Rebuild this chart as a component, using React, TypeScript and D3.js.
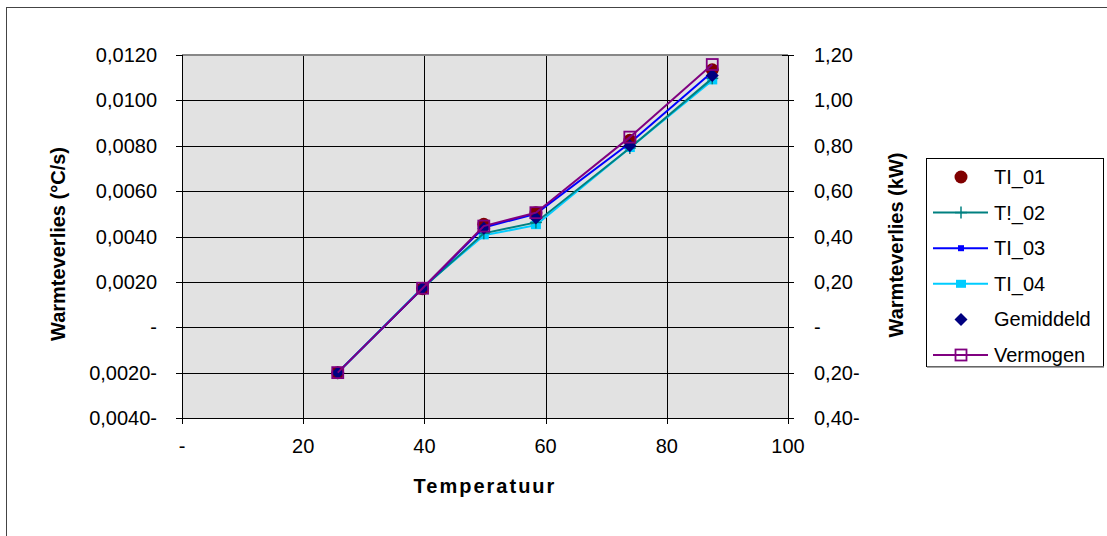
import React from "react";
import * as d3 from "d3";

const temperatures = [25.7, 39.7, 49.8, 58.4, 73.9, 87.5];
const ti01 = [-0.002, 0.0017, 0.00454, 0.00505, 0.00824, 0.01135];
const ti02 = [-0.002, 0.00172, 0.00414, 0.00462, 0.0079, 0.01097];
const ti03 = [-0.002, 0.00172, 0.0044, 0.005, 0.00812, 0.01125];
const ti04 = [-0.002, 0.00175, 0.00405, 0.0045, 0.0079, 0.01088];
const gemiddeld = [-0.002, 0.00172, 0.00436, 0.00482, 0.008, 0.0111];
const vermogenKW = [-0.2, 0.172, 0.446, 0.505, 0.838, 1.158];

const xTicks = [0, 20, 40, 60, 80, 100];
const yLeftTicks = [-0.004, -0.002, 0, 0.002, 0.004, 0.006, 0.008, 0.01, 0.012];
const yRightTicks = [-0.4, -0.2, 0, 0.2, 0.4, 0.6, 0.8, 1.0, 1.2];

const seriesNames = ["TI_01", "T!_02", "TI_03", "TI_04", "Gemiddeld", "Vermogen"];

const FONT = "'Liberation Sans', Arial, sans-serif";

function fmt(v: number, decimals: number) {
  if (Math.abs(v) < 1e-12) return "-";
  const s = Math.abs(v).toFixed(decimals).replace(".", ",");
  return v < 0 ? s + "-" : s;
}

type MarkerKind = "circle" | "plus" | "smallsq" | "bar" | "diamond" | "hollowsq";

function Marker({ kind, x, y, color }: { kind: MarkerKind; x: number; y: number; color: string }) {
  switch (kind) {
    case "circle":
      return <circle cx={x} cy={y} r={6.5} fill={color} />;
    case "plus":
      return (
        <g stroke={color} strokeWidth={1.5}>
          <line x1={x} y1={y - 6} x2={x} y2={y + 6} />
          <line x1={x - 6} y1={y} x2={x + 6} y2={y} />
        </g>
      );
    case "smallsq":
      return <rect x={x - 3} y={y - 3} width={6} height={6} fill={color} />;
    case "bar":
      return <rect x={x - 5} y={y - 4} width={10} height={8} fill={color} />;
    case "diamond":
      return <path d={`M${x},${y - 6.5}L${x + 6.5},${y}L${x},${y + 6.5}L${x - 6.5},${y}Z`} fill={color} />;
    case "hollowsq":
      return <rect x={x - 5.5} y={y - 5.5} width={11} height={11} fill="none" stroke={color} strokeWidth={1.8} />;
  }
  return null;
}

export default function App() {
  const W = 1107;
  const H = 536;
  const left = 182;
  const right = 788;
  const top = 55;
  const bottom = 418;

  const x = d3.scaleLinear().domain([0, 100]).range([left, right]);
  const yL = d3.scaleLinear().domain([-0.004, 0.012]).range([bottom, top]);
  const yR = d3.scaleLinear().domain([-0.4, 1.2]).range([bottom, top]);

  const series = [
    { name: seriesNames[0], values: ti01, scale: yL, color: "#800000", line: false, marker: "circle" as MarkerKind },
    { name: seriesNames[1], values: ti02, scale: yL, color: "#008080", line: true, marker: "plus" as MarkerKind },
    { name: seriesNames[2], values: ti03, scale: yL, color: "#0000FF", line: true, marker: "smallsq" as MarkerKind },
    { name: seriesNames[3], values: ti04, scale: yL, color: "#00CCFF", line: true, marker: "bar" as MarkerKind },
    { name: seriesNames[4], values: gemiddeld, scale: yL, color: "#000080", line: false, marker: "diamond" as MarkerKind },
    { name: seriesNames[5], values: vermogenKW, scale: yR, color: "#800080", line: true, marker: "hollowsq" as MarkerKind },
  ];

  const drawOrder = [3, 1, 2, 0, 4, 5];

  const legX = 926;
  const legY = 158;
  const legW = 177;
  const legH = 208;
  const rowH = 35.6;

  return (
    <svg
      width={W}
      height={H}
      style={{ position: "absolute", left: 0, top: 0, background: "#fff" }}
      fontFamily={FONT}
    >
      <rect x={6.5} y={7.5} width={W + 20} height={H + 20} fill="#fff" stroke="#444" strokeWidth={1} />
      {/* plot area */}
      <rect x={left} y={top} width={right - left} height={bottom - top} fill="#E2E2E2" />
      {yLeftTicks.map((t) => (
        <line key={"gy" + t} x1={left} x2={right} y1={Math.round(yL(t)) + 0.5} y2={Math.round(yL(t)) + 0.5} stroke="#000" strokeWidth={1} />
      ))}
      {xTicks.map((t) => (
        <line key={"gx" + t} x1={Math.round(x(t)) + 0.5} x2={Math.round(x(t)) + 0.5} y1={top} y2={bottom} stroke="#000" strokeWidth={1} />
      ))}
      <line x1={left} x2={right} y1={top} y2={top} stroke="#888" strokeWidth={2} />
      {/* axes */}
      <line x1={left + 0.5} x2={left + 0.5} y1={top} y2={bottom} stroke="#000" />
      <line x1={right + 0.5} x2={right + 0.5} y1={top} y2={bottom} stroke="#000" />
      <line x1={left} x2={right} y1={bottom + 0.5} y2={bottom + 0.5} stroke="#000" />
      {yLeftTicks.map((t) => (
        <g key={"lt" + t}>
          <line x1={left - 6} x2={left} y1={Math.round(yL(t)) + 0.5} y2={Math.round(yL(t)) + 0.5} stroke="#000" />
          <text x={157} y={yL(t)} fontSize={20} textAnchor="end" dominantBaseline="central" fill="#000">
            {fmt(t, 4)}
          </text>
        </g>
      ))}
      {yRightTicks.map((t) => (
        <g key={"rt" + t}>
          <line x1={right - 6} x2={right + 6} y1={Math.round(yR(t)) + 0.5} y2={Math.round(yR(t)) + 0.5} stroke="#000" />
          <text x={814} y={yR(t)} fontSize={20} textAnchor="start" dominantBaseline="central" fill="#000">
            {fmt(t, 2)}
          </text>
        </g>
      ))}
      {xTicks.map((t) => (
        <g key={"xt" + t}>
          <line x1={Math.round(x(t)) + 0.5} x2={Math.round(x(t)) + 0.5} y1={bottom} y2={bottom + 6} stroke="#000" />
          <text x={x(t)} y={453} fontSize={20} textAnchor="middle" fill="#000">
            {t === 0 ? "-" : String(t)}
          </text>
        </g>
      ))}
      {/* axis titles */}
      <text
        transform={`translate(65,244) rotate(-90)`}
        fontSize={20}
        fontWeight="bold"
        textAnchor="middle"
        fill="#000"
      >
        Warmteverlies (°C/s)
      </text>
      <text
        transform={`translate(903,245) rotate(-90)`}
        fontSize={20}
        fontWeight="bold"
        textAnchor="middle"
        fill="#000"
      >
        Warmteverlies (kW)
      </text>
      <text x={485} y={493} fontSize={20} fontWeight="bold" textAnchor="middle" letterSpacing={2} fill="#000">
        Temperatuur
      </text>
      {/* series */}
      {drawOrder.map((i) => {
        const s = series[i];
        const lineGen = d3
          .line<number>()
          .x((_, k) => x(temperatures[k]))
          .y((v) => s.scale(v));
        return (
          <g key={s.name}>
            {s.line && <path d={lineGen(s.values) || ""} fill="none" stroke={s.color} strokeWidth={2} />}
            {s.values.map((v, k) => (
              <Marker key={k} kind={s.marker} x={x(temperatures[k])} y={s.scale(v)} color={s.color} />
            ))}
          </g>
        );
      })}
      {/* legend */}
      <rect x={legX + 0.5} y={legY + 0.5} width={legW} height={legH} fill="#fff" stroke="#000" strokeWidth={1} />
      <line x1={legX + 1} x2={legX + legW + 1} y1={legY + legH + 1} y2={legY + legH + 1} stroke="#888" strokeWidth={1.5} />
      {series.map((s, i) => {
        const cy = legY + 19 + i * rowH;
        return (
          <g key={"leg" + s.name}>
            {s.line && <line x1={933} x2={988} y1={cy} y2={cy} stroke={s.color} strokeWidth={2} />}
            <Marker kind={s.marker} x={961} y={cy} color={s.color} />
            <text x={994} y={cy} fontSize={20} dominantBaseline="central" fill="#000">
              {s.name}
            </text>
          </g>
        );
      })}
    </svg>
  );
}
